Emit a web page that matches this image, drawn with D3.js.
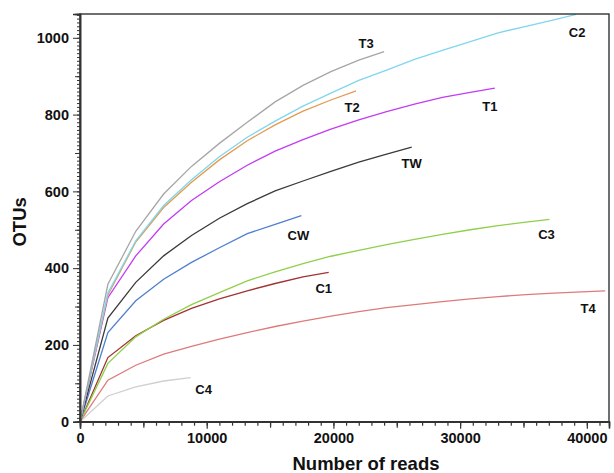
<!DOCTYPE html>
<html>
<head>
<meta charset="utf-8">
<script src="https://cdn.jsdelivr.net/npm/d3@7"></script>
<style>
  body { margin: 0; background: #fff; }
  text { font-family: Arial, "Liberation Sans", sans-serif; font-weight: bold; fill: #111; }
</style>
</head>
<body>
<div id="chart"></div>
<script>
// sample depths used for rarefaction (reads)
const readSteps = [0, 2200, 4400, 6600, 8800, 11000, 13200, 15400, 17600, 19800,
  22000, 24200, 26400, 28600, 30800, 33000, 35200, 37400, 39600];

const sampleNames = ['T3', 'C2', 'T2', 'T1', 'TW', 'CW', 'C3', 'C1', 'T4', 'C4'];
const endReads = [24000, 39160, 21790, 32740, 26180, 17470, 37050, 19630, 41450, 8730];

// OTUs at each read step, last value is at endReads
const otuT3 = [0, 358, 496, 593, 665, 725, 780, 833, 876, 912, 942, 964];
const otuC2 = [0, 335, 471, 563, 630, 690, 741, 783, 822, 856, 889, 916, 944, 967, 990, 1013, 1030, 1047, 1061];
const otuT2 = [0, 330, 468, 558, 624, 682, 732, 773, 809, 838, 862];
const otuT1 = [0, 323, 432, 515, 576, 625, 668, 705, 735, 762, 786, 808, 827, 845, 858, 869];
const otuTW = [0, 270, 363, 432, 485, 530, 568, 601, 627, 652, 676, 697, 715];
const otuCW = [0, 232, 315, 371, 415, 453, 490, 514, 537];
const otuC3 = [0, 152, 221, 267, 305, 336, 367, 390, 412, 431, 446, 461, 475, 488, 500, 511, 520, 527];
const otuC1 = [0, 167, 224, 264, 295, 320, 341, 360, 377, 389];
const otuT4 = [0, 108, 147, 176, 196, 215, 232, 248, 262, 275, 287, 297, 305, 313, 320, 326, 331, 335, 338, 341];
const otuC4 = [0, 67, 91, 106, 115];

const xTickLabels = [0, 10000, 20000, 30000, 40000];
const yTickLabels = [0, 200, 400, 600, 800, 1000];

// styling
const colors = ['#a6a6a6', '#7fd6ee', '#e59a4e', '#c23cf2', '#3a3a3a', '#4f7fce', '#8fd04a', '#a33232', '#de7a7a', '#cfcfcf'];
const labelOffsets = [[-18, -4], [1, 23], [-4, 21], [-5, 23], [0, 21], [-3, 24], [-3, 20], [-5, 21], [-17, 22], [13, 16]];

const otuSeries = [otuT3, otuC2, otuT2, otuT1, otuTW, otuCW, otuC3, otuC1, otuT4, otuC4];

const W = 614, H = 473;
const margin = { top: 14, right: 5, bottom: 52, left: 80 };

const svg = d3.select('#chart').append('svg')
  .attr('width', W).attr('height', H);

const x = d3.scaleLinear().domain([0, 41750]).range([margin.left, W - margin.right]);
const y = d3.scaleLinear().domain([0, 1062]).range([H - margin.bottom + 0.7, margin.top]);

const series = sampleNames.map((name, i) => {
  const vals = otuSeries[i];
  const pts = vals.map((v, j) => ({
    reads: j === vals.length - 1 ? endReads[i] : readSteps[j],
    otu: v
  }));
  return { name, pts, color: colors[i], off: labelOffsets[i] };
});

const line = d3.line().x(d => x(d.reads)).y(d => y(d.otu));

// draw from bottom to top
svg.append('g').selectAll('path')
  .data(series.slice().reverse())
  .join('path')
  .attr('d', d => line(d.pts))
  .attr('fill', 'none')
  .attr('stroke', d => d.color)
  .attr('stroke-width', 1.3);

svg.append('g').selectAll('text')
  .data(series)
  .join('text')
  .attr('x', d => x(d.pts[d.pts.length - 1].reads) + d.off[0])
  .attr('y', d => y(d.pts[d.pts.length - 1].otu) + d.off[1])
  .attr('text-anchor', 'middle')
  .style('font-size', '13px')
  .text(d => d.name);

// frame
svg.append('rect')
  .attr('x', x(0)).attr('y', y(1062))
  .attr('width', x(41750) - x(0)).attr('height', y(0) - y(1062))
  .attr('fill', 'none').attr('stroke', '#333').attr('stroke-width', 1.4);

const tickFont = g => g.selectAll('text')
  .style('font-size', '14.5px')
  .style('font-family', 'Arial, "Liberation Sans", sans-serif')
  .style('font-weight', 'bold')
  .attr('fill', '#111');

// x axis with minor ticks
const gx = svg.append('g').attr('transform', `translate(0,${y(0)})`);
gx.call(d3.axisBottom(x).tickValues(d3.range(0, 41751, 1000)).tickSize(4).tickFormat(''));
gx.call(g => g.append('g').call(d3.axisBottom(x).tickValues(d3.range(5000, 41751, 10000)).tickSize(6).tickFormat('')));
gx.call(g => g.append('g').call(d3.axisBottom(x).tickValues(xTickLabels).tickSize(7).tickPadding(4).tickFormat(d3.format('d'))));
gx.selectAll('.domain').attr('stroke', '#333').attr('stroke-width', 1.4);
gx.selectAll('line').attr('stroke', '#333').attr('stroke-width', 1.2);
tickFont(gx);

// y axis with minor ticks
const gy = svg.append('g').attr('transform', `translate(${x(0)},0)`);
gy.call(d3.axisLeft(y).tickValues(d3.range(0, 1061, 10)).tickSize(3).tickFormat(''));
gy.call(g => g.append('g').call(d3.axisLeft(y).tickValues(d3.range(100, 1061, 200)).tickSize(5).tickFormat('')));
gy.call(g => g.append('g').call(d3.axisLeft(y).tickValues(yTickLabels).tickSize(7).tickPadding(4).tickFormat(d3.format('d'))));
gy.selectAll('.domain').attr('stroke', '#333').attr('stroke-width', 1.4);
gy.selectAll('line').attr('stroke', '#333').attr('stroke-width', 1);
tickFont(gy);

// axis titles
svg.append('text')
  .attr('x', 366).attr('y', 470)
  .attr('text-anchor', 'middle')
  .style('font-size', '18.5px')
  .text('Number of reads');

svg.append('text')
  .attr('transform', `translate(26,${(y(0) + y(1062)) / 2 + 4}) rotate(-90)`)
  .attr('text-anchor', 'middle')
  .style('font-size', '18.5px')
  .text('OTUs');
</script>
</body>
</html>
